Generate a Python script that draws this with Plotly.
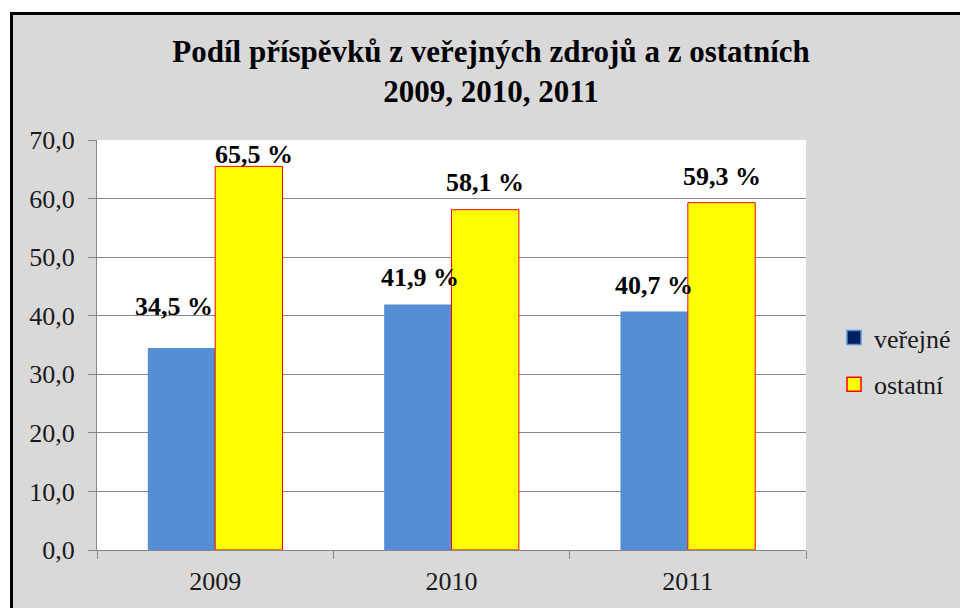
import plotly.graph_objects as go

years = ["2009", "2010", "2011"]
verejne = [34.5, 41.9, 40.7]
ostatni = [65.5, 58.1, 59.3]
series_names = ["veřejné", "ostatní"]
title_text = "Podíl příspěvků z veřejných zdrojů a z ostatních<br>2009, 2010, 2011"

# label offsets (px) relative to bar tops / bar centres, as in the original
blue_dx = [-7, 2, 0]
blue_dy = [41, 27, 26]
yellow_dx = [5, 0, 0]
yellow_dy = [12, 27, 26]

BLUE = "#558ed5"
YELLOW = "#ffff00"
SERIF = "Times New Roman, Liberation Serif, Tinos, Times, DejaVu Serif, serif"

fig = go.Figure()
fig.add_trace(go.Bar(x=years, y=verejne, name=series_names[0], marker=dict(color=BLUE, line=dict(width=0)),
                     showlegend=False))
fig.add_trace(go.Bar(x=years, y=ostatni, name=series_names[1], marker=dict(color=YELLOW, line=dict(color="#ff0000", width=1)),
                     showlegend=False))
# legend entries
fig.add_trace(go.Scatter(x=[None], y=[None], mode="markers", name=series_names[0], legendgroup="a",
                         marker=dict(symbol="square", size=14, color="#002060", line=dict(color=BLUE, width=1.5))))
fig.add_trace(go.Scatter(x=[None], y=[None], mode="markers", name=series_names[1], legendgroup="b",
                         marker=dict(symbol="square", size=14, color=YELLOW, line=dict(color="#ff0000", width=1.5))))

half = 33.75
anns = []
for i, yr in enumerate(years):
    anns.append(dict(x=i, y=verejne[i], xref="x", yref="y", text=f"{verejne[i]:.1f} %".replace(".", ","),
                     showarrow=False, xshift=-half + blue_dx[i], yshift=blue_dy[i], yanchor="middle",
                     font=dict(family=SERIF, size=26, color="#000000", weight="bold")))
    anns.append(dict(x=i, y=ostatni[i], xref="x", yref="y", text=f"{ostatni[i]:.1f} %".replace(".", ","),
                     showarrow=False, xshift=half + yellow_dx[i], yshift=yellow_dy[i], yanchor="middle",
                     font=dict(family=SERIF, size=26, color="#000000", weight="bold")))

PW, PH, L, T = 709, 410, 97, 140
def px_x(p):
    return (p - L) / PW
def px_y(p):
    return (T + PH - p) / PH

shapes = [
    dict(type="rect", xref="paper", yref="paper", x0=px_x(11.5), x1=px_x(990), y0=px_y(640), y1=px_y(13.5),
         fillcolor="#d9d9d9", line=dict(color="#000000", width=3), layer="below"),
    dict(type="rect", xref="paper", yref="paper", x0=0, x1=1, y0=0, y1=1,
         fillcolor="#ffffff", line=dict(width=0), layer="below"),
]

fig.update_layout(
    width=960, height=608,
    margin=dict(l=L, r=960 - L - PW, t=T, b=608 - T - PH, autoexpand=False),
    paper_bgcolor="#ffffff", plot_bgcolor="rgba(0,0,0,0)",
    separators=", ",
    barmode="group", bargap=0.43, bargroupgap=0,
    title=dict(text=title_text, x=491 / 960, xref="container", xanchor="center",
               y=1 - 62 / 608, yref="container", yanchor="middle",
               font=dict(family=SERIF, size=31, color="#000000", weight="bold")),
    font=dict(family=SERIF, size=26, color="#1a1a1a"),
    legend=dict(x=px_x(834), y=px_y(314), xanchor="left", yanchor="top", bgcolor="rgba(0,0,0,0)",
                font=dict(family=SERIF, size=26, color="#1a1a1a"), tracegroupgap=10,
                traceorder="grouped"),
    annotations=anns,
    shapes=shapes,
)
fig.update_yaxes(range=[0, 70], dtick=10, tickformat=".1f", showgrid=True, gridcolor="#868686", gridwidth=1,
                 showline=True, linecolor="#868686", linewidth=1, ticks="outside", ticklen=8,
                 tickcolor="#868686", ticklabelstandoff=8, zeroline=False,
                 tickfont=dict(family=SERIF, size=26, color="#1a1a1a"))
fig.update_xaxes(type="category", showline=True, linecolor="#868686", linewidth=1, ticks="outside", ticklen=8,
                 tickcolor="#868686", tickson="boundaries", showgrid=False, ticklabelstandoff=8,
                 tickfont=dict(family=SERIF, size=26, color="#1a1a1a"), range=[-0.5, 2.5])

fig.write_html("out.html", config={"displayModeBar": False})
# remove default page margin so the figure sits at (0, 0)
with open("out.html", "r", encoding="utf-8") as f:
    html = f.read()
html = html.replace("<body>", '<body style="margin:0;padding:0;">', 1)
with open("out.html", "w", encoding="utf-8") as f:
    f.write(html)
